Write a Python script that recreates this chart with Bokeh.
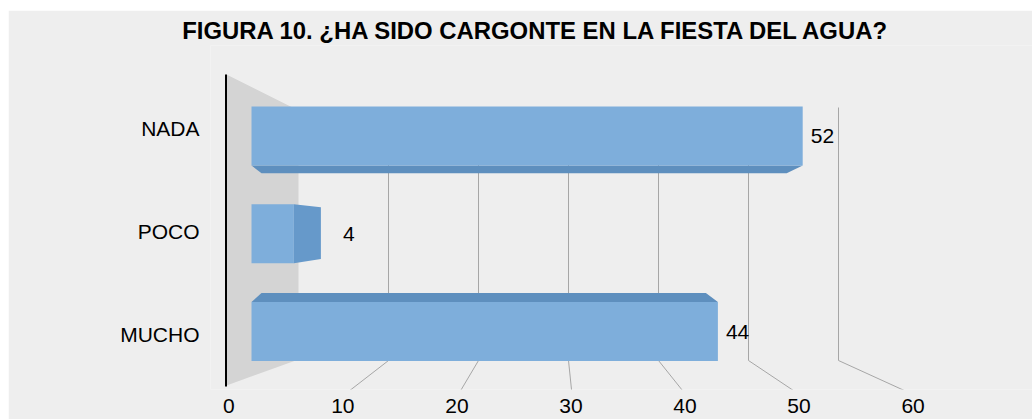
from bokeh.plotting import figure
from bokeh.models import Range1d, LinearAxis, FixedTicker, Spacer, Title
from bokeh.layouts import column, row
from bokeh.embed import file_html
from bokeh.resources import INLINE
from bokeh.core.properties import value

# ---------------- data ----------------
categories = ["MUCHO", "POCO", "NADA"]
values = [44, 4, 52]
tick_values = [0, 10, 20, 30, 40, 50, 60]
title_text = "FIGURA 10. ¿HA SIDO CARGONTE EN LA FIESTA DEL AGUA?"

# ---------------- layout / style constants (page pixels) ----------------
OFF_X, OFF_Y = 8, 10               # white border around the chart
TITLE_H = 35                        # height of the title band
TITLE_LEFT = 181.7                  # left edge of the title text
FRAME_L, FRAME_T = 210, OFF_Y + TITLE_H
FRAME_W, FRAME_H = 822, 389 - (OFF_Y + TITLE_H)
BAR_X0, BAR_PX = 251.0, 10.6      # bar front face: x of value 0, px per unit
ROW_Y0, ROW_PX = 331.0, 97.75     # bar rows: y of row 0 centre, px per row
HALF = 29.5                        # half thickness of bar front face
VPX, SX = 463.0, 0.9528            # depth projection in x
VPY, SY = 229.0, 0.877             # depth projection in y
SIDE_PX = 27.0                     # side depth of the middle row
BACK_X0, BACK_PX = 298.0, 9.0      # back wall scale
FRONT_X0, FRONT_PX = 236.4, 11.16  # floor front edge scale
LABEL_X0, LABEL_PX = 228.3, 11.405 # value axis label positions
CAT_Y0, CAT_PX = 334.0, 103.25     # category label positions
WALL_TOP, WALL_BOT = 107.0, 360.0
FLOOR_FRONT = 391.0

BG = "#EEEEEE"
FRONT_C = "#7EAEDB"
TOPBOT_C = "#5E8FBE"
SIDE_C = "#6699CA"
WALL_C = "#D4D4D4"
GRID_C = "#A6A6A6"
FONT = "Liberation Sans"


def ux(sx):
    return (sx - BAR_X0) / BAR_PX


def uy(sy):
    return (ROW_Y0 - sy) / ROW_PX


def bx(x):
    return VPX + SX * (x - VPX)


def by(y):
    return VPY + SY * (y - VPY)


p = figure(
    frame_width=FRAME_W, frame_height=FRAME_H,
    x_range=Range1d(ux(FRAME_L), ux(FRAME_L + FRAME_W)),
    y_range=Range1d(uy(FRAME_T + FRAME_H), uy(FRAME_T)),
    x_axis_location=None, y_axis_location=None,
    output_backend="svg", toolbar_location=None,
    min_border_left=FRAME_L - OFF_X, min_border_right=0,
    min_border_top=TITLE_H, min_border_bottom=30,
    background_fill_color=BG, border_fill_color=BG,
    outline_line_color=None,
)
p.xgrid.visible = False
p.ygrid.visible = False

p.add_layout(Title(text=title_text, align="left", offset=TITLE_LEFT - FRAME_L,
                   vertical_align="top", standoff=0,
                   text_font=FONT, text_font_style="bold",
                   text_font_size="23.9px", text_color="black"), "above")

p.extra_x_ranges = {"floor": Range1d((FRAME_L - LABEL_X0) / LABEL_PX,
                                     (FRAME_L + FRAME_W - LABEL_X0) / LABEL_PX)}
p.extra_y_ranges = {"cat": Range1d((CAT_Y0 - FRAME_T - FRAME_H) / CAT_PX,
                                   (CAT_Y0 - FRAME_T) / CAT_PX)}

# left wall
wall_x = [226, 298, 298, 226]
wall_y = [74, 110, 359, 385]
p.patch([ux(v) for v in wall_x], [uy(v) for v in wall_y],
        fill_color=WALL_C, line_color=None)
p.line([ux(225.5), ux(225.5)], [uy(74), uy(386)], line_color="black", line_width=2)

# gridlines (back wall + floor)
gxs, gys = [], []
for tv in tick_values[1:]:
    xb = BACK_X0 + BACK_PX * tv
    xf = FRONT_X0 + FRONT_PX * tv
    gxs.append([ux(xb), ux(xb), ux(xf)])
    gys.append([uy(WALL_TOP), uy(WALL_BOT), uy(FLOOR_FRONT)])
p.multi_line(gxs, gys, line_color=GRID_C, line_width=1)

# 3D bars
face_xs, face_ys, face_cs = [], [], []
front_xs, front_ys = [], []
lab_x, lab_y, lab_t = [], [], []
for i, (cat, v) in enumerate(zip(categories, values)):
    cy = ROW_Y0 - i * ROW_PX
    top, bot = cy - HALF, cy + HALF
    x0, x1 = BAR_X0, BAR_X0 + v * BAR_PX
    straddle = top < VPY < bot
    if bot < VPY:  # bottom face visible
        face_xs.append([ux(x0), ux(x1), ux(bx(x1)), ux(bx(x0))])
        face_ys.append([uy(bot), uy(bot), uy(by(bot)), uy(by(bot))])
        face_cs.append(TOPBOT_C)
    if top > VPY:  # top face visible
        face_xs.append([ux(x0), ux(x1), ux(bx(x1)), ux(bx(x0))])
        face_ys.append([uy(top), uy(top), uy(by(top)), uy(by(top))])
        face_cs.append(TOPBOT_C)
    xr = x1 + SIDE_PX if straddle else bx(x1)
    if xr > x1:  # right face visible
        face_xs.append([ux(x1), ux(xr), ux(xr), ux(x1)])
        face_ys.append([uy(top), uy(by(top)), uy(by(bot)), uy(bot)])
        face_cs.append(SIDE_C)
    front_xs.append([ux(x0), ux(x1), ux(x1), ux(x0)])
    front_ys.append([uy(top), uy(top), uy(bot), uy(bot)])
    lab_x.append(ux(max(x1, xr) + (22 if straddle else 8)))
    lab_y.append(i)
    lab_t.append(str(v))

p.patches(face_xs, face_ys, fill_color=face_cs, line_color=None)
p.patches(front_xs, front_ys, fill_color=FRONT_C, line_color=None)

p.text(lab_x, lab_y, text=lab_t, text_align="left", text_baseline="middle",
       text_font=value(FONT), text_font_size="21px", text_color="black")

# axes
xaxis = LinearAxis(x_range_name="floor", ticker=FixedTicker(ticks=tick_values))
yaxis = LinearAxis(y_range_name="cat", ticker=FixedTicker(ticks=list(range(len(categories)))),
                   major_label_overrides={i: c for i, c in enumerate(categories)})
for ax in (xaxis, yaxis):
    ax.axis_line_color = None
    ax.major_tick_line_color = None
    ax.minor_tick_line_color = None
    ax.major_tick_out = 0
    ax.major_tick_in = 0
    ax.major_label_text_font = FONT
    ax.major_label_text_font_size = "21px"
    ax.major_label_text_color = "black"
xaxis.major_label_standoff = 9
yaxis.major_label_standoff = 11
p.add_layout(xaxis, "below")
p.add_layout(yaxis, "left")

page = column(Spacer(height=OFF_Y), row(Spacer(width=OFF_X), p, spacing=0), spacing=0)
open("out.html", "w").write(file_html(page, INLINE))
